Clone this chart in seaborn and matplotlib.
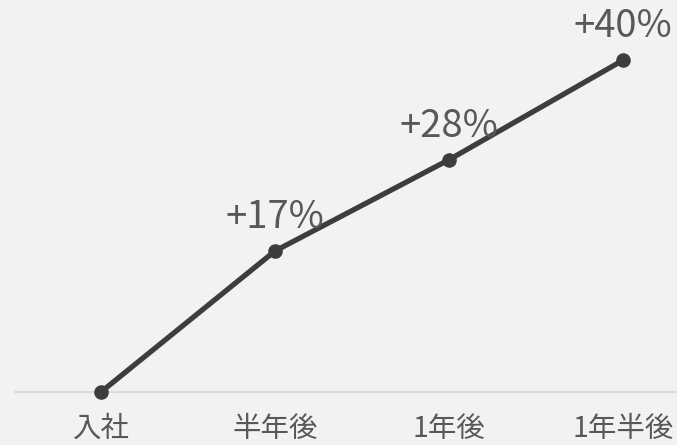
import matplotlib
matplotlib.use("Agg")
import matplotlib.pyplot as plt
import seaborn as sns
import pandas as pd

categories = ["入社", "半年後", "1年後", "1年半後"]
values = [0, 17, 28, 40]
labels = ["", "+17%", "+28%", "+40%"]

sns.set_theme(style="white")
plt.rcParams['font.family'] = ['Noto Sans CJK JP', 'DejaVu Sans']

bg = "#f2f2f2"
W, H = 677, 445
fig = plt.figure(figsize=(W / 100, H / 100), dpi=100, facecolor=bg)
base_px = 392
ax = fig.add_axes([0, (H - base_px) / H, 1, base_px / H])
ax.set_facecolor(bg)

df = pd.DataFrame({"x": range(len(categories)), "v": values})
sns.lineplot(data=df, x="x", y="v", ax=ax, color="#3d3d3d", linewidth=3.8,
             marker="o", markersize=10.5, markeredgewidth=0, zorder=3)
for ln in ax.lines:
    ln.set_clip_on(False)

step = 174.0
x0 = 101.0
ax.set_xlim(-x0 / step, (W - x0) / step)
ppu = 141 / 17
ax.set_ylim(0, base_px / ppu)
ax.axhline(0, xmin=15 / W, xmax=1, color="#dcdcdc", linewidth=1.6, zorder=1, clip_on=False)

for i, (v, t) in enumerate(zip(values, labels)):
    if t:
        ax.annotate(t, (i, v), xytext=(0, 23), textcoords="offset pixels",
                    ha="center", va="baseline", fontsize=27.5, color="#585858")

ax.set_xticks(range(len(categories)))
ax.set_xticklabels(categories, fontsize=20.5, color="#585858")
ax.tick_params(axis="x", length=0, pad=16)
ax.set_yticks([])
ax.set_xlabel("")
ax.set_ylabel("")
for s in ax.spines.values():
    s.set_visible(False)

fig.savefig("out.png", dpi=100, facecolor=bg)
